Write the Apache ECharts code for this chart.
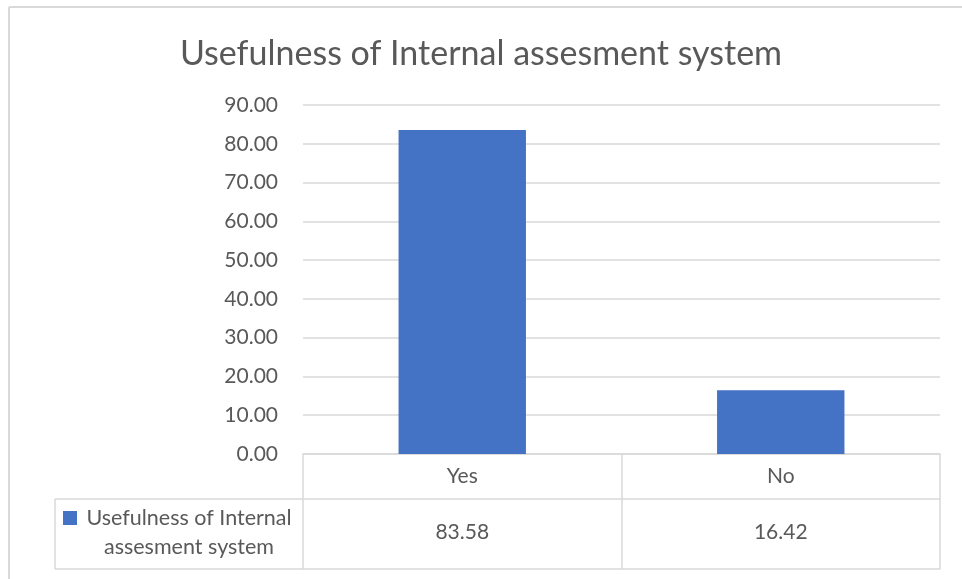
<!DOCTYPE html>
<html>
<head>
<meta charset="utf-8">
<script src="https://cdn.jsdelivr.net/npm/echarts@6/dist/echarts.min.js"></script>
<style>html,body{margin:0;padding:0;background:#fff;}#c{width:962px;height:579px;}</style>
</head>
<body>
<div id="c"></div>
<script>
const titleText = "Usefulness of Internal assesment system";
const categories = ["Yes", "No"];
const seriesName = "Usefulness of Internal assesment system";
const values = [83.58, 16.42];
const yTicks = [0, 10, 20, 30, 40, 50, 60, 70, 80, 90];

const FONT = "Lato, 'Open Sans', sans-serif";
const GRAY = "#595959";
const LINE = "#d9d9d9";
const BLUE = "#4472c4";

const chart = echarts.init(document.getElementById('c'), null, {renderer: 'canvas'});
const option = {
  animation: false,
  backgroundColor: '#fff',
  title: {
    text: titleText, left: 'center', top: 32,
    textStyle: {fontFamily: FONT, fontSize: 34, fontWeight: 'normal', color: GRAY}
  },
  grid: {left: 303, right: 22, top: 105, bottom: 125, containLabel: false},
  xAxis: [{
    type: 'category', data: categories, position: 'bottom',
    axisLine: {show: true, lineStyle: {color: LINE, width: 1.5}},
    axisTick: {show: true, length: 115, lineStyle: {color: LINE, width: 1.5}},
    axisLabel: {margin: 12, fontFamily: FONT, fontSize: 21, color: GRAY}
  }, {
    type: 'category', data: categories, position: 'bottom', offset: 68,
    axisLine: {show: false}, axisTick: {show: false},
    axisLabel: {margin: 0, fontFamily: FONT, fontSize: 21, color: GRAY,
      formatter: (v, i) => values[i].toFixed(2)}
  }],
  yAxis: {
    type: 'value', min: yTicks[0], max: yTicks[yTicks.length - 1], interval: 10,
    axisLine: {show: false}, axisTick: {show: false},
    axisLabel: {margin: 25, fontFamily: FONT, fontSize: 21, color: GRAY,
      formatter: v => v.toFixed(2)},
    splitLine: {lineStyle: {color: LINE, width: 1.5}}
  },
  series: [{
    name: seriesName, type: 'bar', data: values, xAxisIndex: 0,
    barWidth: '40%', itemStyle: {color: BLUE}
  }],
  graphic: [
    {type: 'line', shape: {x1: 9, y1: 7, x2: 962, y2: 7}, style: {stroke: LINE, lineWidth: 2}},
    {type: 'line', shape: {x1: 9, y1: 7, x2: 9, y2: 579}, style: {stroke: LINE, lineWidth: 2}},
    {type: 'line', shape: {x1: 55, y1: 499, x2: 940, y2: 499}, style: {stroke: LINE, lineWidth: 1.5}},
    {type: 'line', shape: {x1: 55, y1: 569, x2: 940, y2: 569}, style: {stroke: LINE, lineWidth: 1.5}},
    {type: 'line', shape: {x1: 55, y1: 499, x2: 55, y2: 569}, style: {stroke: LINE, lineWidth: 1.5}},
    {type: 'rect', shape: {x: 63, y: 511, width: 14, height: 14}, style: {fill: BLUE}},
    {type: 'text', x: 189, y: 533, style: {text: seriesName.replace(' assesment', '\nassesment'),
      font: "21.5px Lato, 'Open Sans', sans-serif", fill: GRAY, align: 'center', verticalAlign: 'middle', lineHeight: 29}}
  ]
};
chart.setOption(option);
</script>
</body>
</html>
